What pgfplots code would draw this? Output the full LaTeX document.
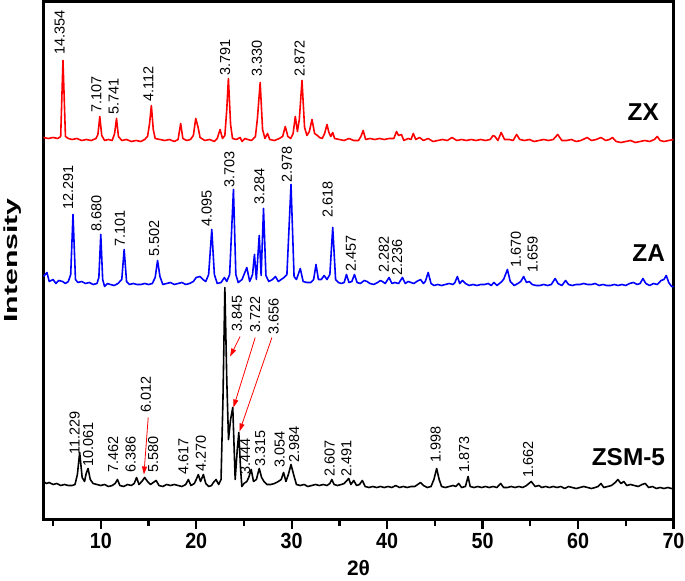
\documentclass[border=0pt]{standalone}
\usepackage{pgfplots}
\pgfplotsset{compat=1.18}
\usepackage{fontspec}
\setmainfont{Liberation Sans}
\newfontfamily\narrowfont[FakeStretch=0.9]{Liberation Sans}
\usetikzlibrary{arrows.meta}
\newcommand{\lab}[3]{\node[rotate=90,anchor=west,inner sep=0pt,font=\fontsize{14.5}{15}\selectfont] at (axis cs:#1,#2) {#3};}
\begin{document}
\begin{tikzpicture}
\path[use as bounding box] (-43.5bp,-61.5bp) rectangle (641.5bp,519.5bp);
\begin{axis}[
  scale only axis, width=630bp, height=518bp,
  xmin=4, xmax=70, ymin=0, ymax=518,
  clip=false,
  axis line style={line width=3pt},
  xtick={10,20,30,40,50,60,70},
  xticklabels={10,20,30,40,50,60,70},
  minor xtick={5,15,25,35,45,55,65},
  ytick=\empty,
  xtick pos=bottom,
  tick align=outside,
  major tick length=9bp, minor tick length=6bp,
  every tick/.style={black, line width=2.2pt},
  /pgf/number format/assume math mode=true,
  tick label style={font=\narrowfont\bfseries\fontsize{22}{23}\selectfont},
  xticklabel style={yshift=-1bp},
  xlabel={2θ},
  xlabel style={at={(axis description cs:0.5,0)}, anchor=center, yshift=-49bp, font=\bfseries\fontsize{21}{22}\selectfont},
  ylabel={\scalebox{1.6}[1]{Intensity}},
  ylabel style={at={(axis description cs:0,0.5)}, anchor=center, yshift=31bp, font=\bfseries\fontsize{19}{20}\selectfont},
]
% ZX
\addplot[red, line width=1.6pt, line join=round] coordinates {
(4.0,382)(4.5,381)(5.0,382)(5.5,381)(5.8,383)(6.04,459)(6.3,383)(6.6,381)(7.0,380)(7.5,381)(8.0,379)(8.5,380)(9.0,379)(9.5,381)(9.7,385)(9.9,403)(10.1,384)(10.4,379)(10.8,380)(11.2,379)(11.45,386)(11.65,401)(11.85,383)(12.2,379)(12.7,380)(13.2,378)(13.7,379)(14.2,378)(14.6,380)(14.9,383)(15.1,395)(15.3,414)(15.5,390)(15.7,381)(16.2,380)(16.7,379)(17.2,380)(17.7,378)(18.1,380)(18.37,396)(18.6,381)(19.0,379)(19.4,380)(19.7,384)(19.95,401)(20.2,392)(20.4,382)(20.9,379)(21.4,380)(21.9,378)(22.2,381)(22.5,390)(22.75,381)(23.0,384)(23.2,410)(23.37,441)(23.6,395)(23.8,381)(24.2,380)(24.6,382)(24.8,378)(25.1,381)(25.4,380)(25.8,379)(26.2,383)(26.4,400)(26.7,437)(26.95,390)(27.2,381)(27.47,386)(27.7,380)(28.2,379)(28.7,381)(29.05,383)(29.33,393)(29.6,383)(29.9,381)(30.15,386)(30.38,403)(30.6,388)(30.8,400)(31.08,439)(31.35,392)(31.6,384)(31.85,388)(32.13,400)(32.4,386)(32.7,384)(32.9,382)(33.2,381)(33.45,386)(33.7,395)(33.9,387)(34.1,383)(34.3,387)(34.5,381)(35.0,380)(35.5,379)(36.0,381)(36.5,379)(37.0,379)(37.25,383)(37.49,389)(37.75,380)(38.2,381)(38.7,380)(39.2,381)(39.7,380)(40.2,381)(40.7,381)(40.99,388)(41.2,384)(41.5,385)(41.75,379)(42.2,381)(42.5,380)(42.74,386)(43.0,380)(43.4,382)(43.8,379)(44.3,381)(44.8,378)(45.3,379)(45.8,380)(46.3,379)(46.8,382)(47.3,379)(47.8,380)(48.3,379)(48.8,380)(49.3,379)(49.8,380)(50.3,379)(50.8,380)(51.1,384)(51.3,383)(51.6,379)(51.95,387)(52.3,380)(52.8,380)(53.2,379)(53.56,385)(53.9,380)(54.4,379)(54.9,380)(55.4,378)(55.9,379)(56.4,380)(56.9,379)(57.4,380)(57.87,385)(58.3,379)(58.8,379)(59.3,380)(59.8,378)(60.3,379)(60.95,382)(61.4,379)(61.9,380)(62.4,382)(62.9,379)(63.3,380)(63.6,382)(64.0,378)(64.5,377)(65.0,378)(65.5,379)(66.0,377)(66.5,378)(67.0,379)(67.5,378)(68.0,380)(68.3,383)(68.6,379)(69.0,378)(69.5,379)(70,380)
};
% ZA
\addplot[blue, line width=1.6pt, line join=round] coordinates {
(4.0,243)(4.36,247)(4.6,238)(5.0,240)(5.3,236)(5.6,239)(6.0,238)(6.3,236)(6.6,238)(6.85,245)(7.09,305)(7.35,240)(7.6,237)(8.0,238)(8.4,236)(8.8,237)(9.2,235)(9.6,236)(9.8,242)(10.0,285)(10.2,240)(10.4,233)(10.7,236)(11.0,235)(11.4,234)(11.8,236)(12.2,240)(12.45,270)(12.7,238)(13.0,235)(13.4,236)(13.8,235)(14.2,235)(14.6,236)(15.0,235)(15.4,236)(15.7,242)(15.95,259)(16.2,243)(16.5,235)(16.9,236)(17.3,237)(17.7,235)(18.1,236)(18.5,237)(18.9,235)(19.3,236)(19.7,238)(20.0,242)(20.4,243)(20.7,240)(21.0,238)(21.3,245)(21.63,290)(21.9,245)(22.2,236)(22.6,237)(22.95,242)(23.2,238)(23.5,245)(23.9,330)(24.15,245)(24.4,237)(24.8,240)(25.3,252)(25.6,238)(25.9,245)(26.1,265)(26.3,240)(26.6,284)(26.8,244)(27.05,311)(27.3,244)(27.6,238)(28.0,240)(28.3,243)(28.6,238)(28.9,240)(29.2,242)(29.5,245)(29.93,335)(30.25,243)(30.5,240)(30.9,251)(31.2,238)(31.6,237)(32.0,237)(32.3,240)(32.55,255)(32.8,240)(33.1,240)(33.4,244)(33.7,240)(34.0,245)(34.3,292)(34.6,240)(34.9,237)(35.2,236)(35.5,237)(35.74,245)(36.0,237)(36.3,238)(36.58,245)(36.85,237)(37.2,236)(37.6,239)(37.9,238)(38.2,236)(38.6,235)(39.0,237)(39.3,239)(39.5,238)(39.8,236)(40.2,242)(40.5,236)(40.8,237)(41.2,236)(41.6,242)(41.9,236)(42.2,238)(42.5,237)(42.8,236)(43.1,238)(43.5,240)(43.8,236)(44.0,238)(44.3,247)(44.6,236)(44.9,234)(45.3,235)(45.7,234)(46.1,235)(46.5,236)(46.9,235)(47.1,237)(47.36,243)(47.6,236)(47.9,239)(48.2,236)(48.6,234)(49.0,235)(49.4,234)(49.8,235)(50.2,235)(50.6,236)(50.9,234)(51.2,237)(51.5,234)(51.9,237)(52.2,240)(52.6,250)(52.9,238)(53.3,234)(53.7,236)(54.0,238)(54.3,243)(54.6,237)(54.9,238)(55.2,235)(55.6,234)(56.0,234)(56.4,235)(56.8,234)(57.2,235)(57.6,241)(57.9,236)(58.3,234)(58.7,239)(59.0,235)(59.4,234)(59.8,235)(60.2,235)(60.6,236)(61.0,235)(61.4,235)(61.8,236)(62.2,234)(62.6,235)(63.0,234)(63.4,234)(63.8,235)(64.2,234)(64.6,235)(65.0,234)(65.4,236)(65.8,237)(66.2,235)(66.5,236)(66.8,241)(67.1,236)(67.5,234)(67.9,236)(68.3,235)(68.7,239)(69.0,240)(69.24,244)(69.5,237)(69.8,233)(70,233)
};
% ZSM-5
\addplot[black, line width=1.6pt, line join=round] coordinates {
(4.0,38)(4.3,36)(4.6,37)(5.0,35)(5.4,36)(5.8,34)(6.2,35)(6.6,34)(7.0,34)(7.3,35)(7.55,45)(7.79,67)(8.05,42)(8.3,38)(8.47,46)(8.67,51)(8.9,40)(9.2,36)(9.6,35)(10.0,34)(10.4,35)(10.8,33)(11.2,34)(11.5,36)(11.75,40)(12.0,34)(12.4,33)(12.8,35)(13.2,34)(13.5,36)(13.75,42)(14.0,35)(14.3,38)(14.6,42)(14.9,38)(15.2,35)(15.5,37)(15.8,39)(16.1,34)(16.5,33)(16.9,35)(17.3,34)(17.7,35)(18.1,34)(18.5,33)(18.9,35)(19.17,40)(19.45,34)(19.8,36)(20.0,40)(20.22,45)(20.45,38)(20.75,45)(21.0,36)(21.3,33)(21.6,34)(21.8,37)(22.08,40)(22.35,35)(22.6,40)(22.8,120)(23.0,232)(23.2,140)(23.38,80)(23.6,100)(23.83,112)(24.08,40)(24.3,70)(24.46,87)(24.65,50)(24.78,33)(25.0,36)(25.3,38)(25.5,42)(25.76,50)(26.0,38)(26.3,40)(26.6,51)(26.85,42)(27.1,38)(27.4,35)(27.8,35)(28.2,36)(28.6,38)(28.9,40)(29.15,47)(29.4,38)(29.65,45)(29.93,55)(30.2,45)(30.5,35)(30.9,34)(31.3,35)(31.7,33)(32.1,34)(32.5,35)(32.9,34)(33.3,35)(33.7,34)(34.0,36)(34.2,40)(34.45,35)(34.8,34)(35.2,35)(35.5,36)(35.98,41)(36.2,35)(36.5,39)(36.8,34)(37.1,35)(37.4,39)(37.7,33)(38.1,32)(38.5,33)(38.9,32)(39.3,33)(39.7,32)(40.1,33)(40.5,32)(40.9,34)(41.3,32)(41.7,33)(42.1,32)(42.5,33)(42.9,33)(43.2,35)(43.5,37)(43.8,34)(44.2,32)(44.6,33)(44.9,40)(45.19,51)(45.45,40)(45.7,33)(46.1,32)(46.5,33)(46.9,34)(47.2,33)(47.5,36)(47.8,32)(48.2,33)(48.48,43)(48.7,33)(49.1,32)(49.5,33)(49.9,32)(50.3,33)(50.7,32)(51.1,33)(51.5,32)(51.9,36)(52.2,32)(52.6,32)(53.0,33)(53.4,32)(53.8,33)(54.2,32)(54.6,34)(55.1,38)(55.5,33)(55.9,34)(56.2,32)(56.6,33)(57.0,32)(57.4,33)(57.8,32)(58.2,33)(58.6,31)(59.0,33)(59.4,32)(59.8,31)(60.2,32)(60.6,33)(61.0,32)(61.4,31)(61.8,32)(62.1,33)(62.4,36)(62.7,32)(63.1,33)(63.5,34)(63.9,37)(64.17,40)(64.5,36)(64.8,38)(65.1,34)(65.5,35)(65.9,34)(66.3,33)(66.7,35)(67.04,36)(67.4,32)(67.8,33)(68.2,31)(68.6,32)(69.0,31)(69.4,32)(69.8,31)(70,31)
};
% ZX labels
\lab{5.69}{465}{14.354}
\lab{9.55}{407}{7.107}
\lab{11.37}{405}{5.741}
\lab{14.97}{418}{4.112}
\lab{23.03}{444}{3.791}
\lab{26.36}{443}{3.330}
\lab{30.83}{443}{2.872}
% ZA labels
\lab{6.57}{310}{12.291}
\lab{9.55}{288}{8.680}
\lab{12.0}{273}{7.101}
\lab{15.6}{263}{5.502}
\lab{21.1}{293}{4.095}
\lab{23.48}{332}{3.703}
\lab{26.63}{315}{3.284}
\lab{29.5}{337}{2.978}
\lab{33.77}{302}{2.618}
\lab{36.2}{248}{2.457}
\lab{39.65}{247}{2.282}
\lab{41.06}{244}{2.236}
\lab{53.49}{252}{1.670}
\lab{55.24}{247}{1.659}
% ZSM-5 labels
\lab{7.27}{65}{11.229}
\lab{8.67}{53}{10.061}
\lab{11.29}{47}{7.462}
\lab{13.12}{47}{6.386}
\lab{15.49}{47}{5.580}
\lab{14.73}{107}{6.012}
\lab{18.65}{45}{4.617}
\lab{20.5}{48}{4.270}
\lab{24.25}{188}{3.845}
\lab{26.18}{187}{3.722}
\lab{28.1}{185}{3.656}
\lab{25.13}{45}{3.444}
\lab{26.7}{53}{3.315}
\lab{28.73}{52}{3.054}
\lab{30.27}{57}{2.984}
\lab{33.98}{43}{2.607}
\lab{35.74}{43}{2.491}
\lab{45.08}{57}{1.998}
\lab{48.06}{47}{1.873}
\lab{54.78}{42}{1.662}
% arrows
\draw[red, line width=0.8pt, -{Triangle[length=8bp,width=5bp]}] (axis cs:14.97,102) -- (axis cs:14.52,45);
\draw[red, line width=0.8pt, -{Triangle[length=8bp,width=5bp]}] (axis cs:24.6,183) -- (axis cs:23.55,163);
\draw[red, line width=0.8pt, -{Triangle[length=8bp,width=5bp]}] (axis cs:26.18,182) -- (axis cs:23.9,112);
\draw[red, line width=0.8pt, -{Triangle[length=8bp,width=5bp]}] (axis cs:27.93,182) -- (axis cs:24.53,88);
% series names
\node[font=\bfseries\fontsize{24.5}{25}\selectfont, inner sep=0pt] at (axis cs:66.83,407) {ZX};
\node[font=\bfseries\fontsize{24.5}{25}\selectfont, inner sep=0pt] at (axis cs:67.4,266) {ZA};
\node[font=\bfseries\fontsize{24.5}{25}\selectfont, inner sep=0pt] at (axis cs:65.28,62) {ZSM-5};
\end{axis}
\end{tikzpicture}
\end{document}
